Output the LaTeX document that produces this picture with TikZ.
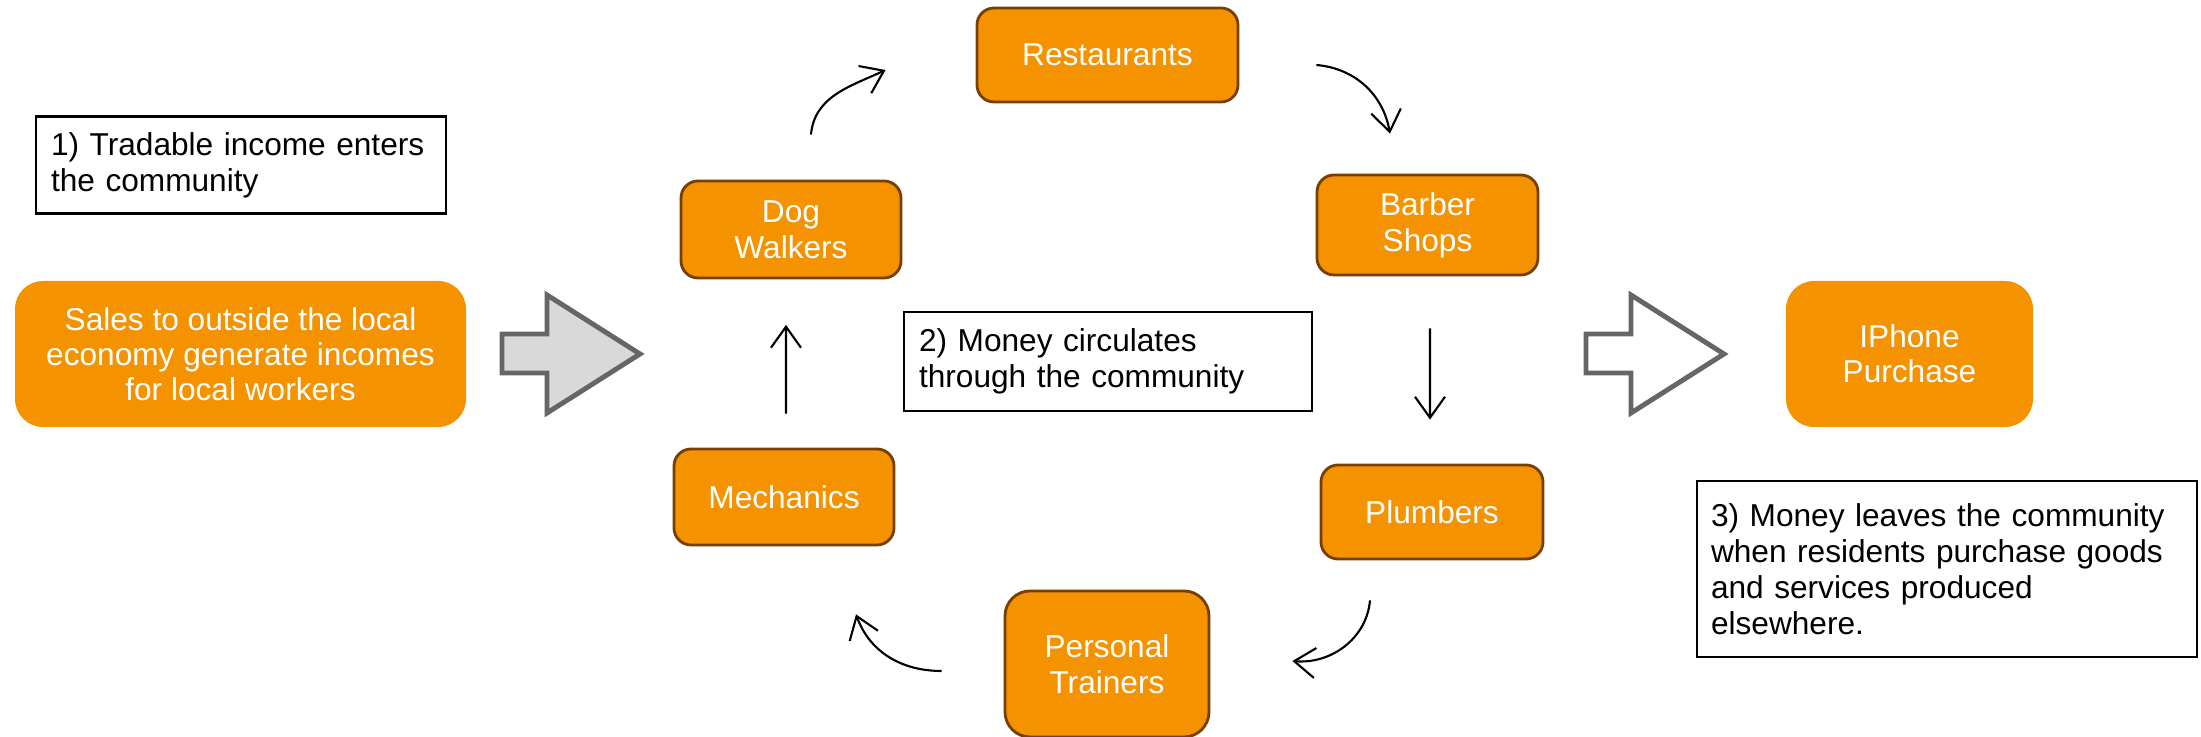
\documentclass[tikz,border=0pt]{standalone}
\usepackage{fontspec}
\setmainfont{Liberation Sans}
\usetikzlibrary{arrows.meta}
\definecolor{boxorange}{RGB}{244,146,0}
\definecolor{boxbrown}{RGB}{120,63,4}
\definecolor{arrowgrey}{RGB}{102,102,102}
\definecolor{lightgrey}{RGB}{217,217,217}
\tikzset{shop/.style = {fill = boxorange, draw = boxbrown, line width = 0.8pt, rounded corners = 0.17cm, text = white, align = center, font = \fontsize{9}{10.2}\selectfont, inner sep = 0}}
\tikzset{bigbox/.style = {fill = boxorange, rounded corners = 0.28cm, text = white, align = center, font = \fontsize{9}{10}\selectfont, inner sep = 0}}
\tikzset{note/.style = {draw, line width = 0.6pt, align = left, font = \fontsize{9}{10.2}\selectfont, inner xsep = 0.15cm, inner ysep = 0}}
\tikzset{flow/.style = {line width = 0.6pt, -{Straight Barb[length = 2.1mm, width = 3mm]}}}

\begin{document}
\begin{tikzpicture}
    \useasboundingbox (0, 0) rectangle (22.01, 7.37);

    \node [note, text width = 3.8cm, minimum height = 0.97cm] (note1) at (2.41, 5.72) {1) Tradable income enters\\the community};
    \node [bigbox, minimum width = 4.51cm, minimum height = 1.46cm] (sales) at (2.405, 3.83) {Sales to outside the local\\economy generate incomes\\for local workers};

    % big arrows in and out of the community
    \foreach \x/\c in {0/lightgrey, 10.84/white} {
      \begin{scope}[xshift=\x cm]
        \draw [draw = arrowgrey, fill = \c, line width = 1.4pt] (5.02, 3.64) -- (5.47, 3.64) -- (5.47, 3.24) -- (6.40, 3.83) -- (5.47, 4.42) -- (5.47, 4.03) -- (5.02, 4.03) -- cycle;
      \end{scope}
    }

    \node [shop, minimum width = 2.20cm, minimum height = 0.97cm] (dog) at (7.91, 5.075) {Dog\\Walkers};
    \node [shop, minimum width = 2.61cm, minimum height = 0.94cm] (rest) at (11.075, 6.82) {Restaurants};
    \node [shop, minimum width = 2.21cm, minimum height = 1.00cm] (barber) at (14.275, 5.12) {Barber\\Shops};
    \node [shop, minimum width = 2.22cm, minimum height = 0.94cm] (plumb) at (14.32, 2.25) {Plumbers};
    \node [shop, minimum width = 2.04cm, minimum height = 1.46cm, rounded corners = 0.25cm] (trainer) at (11.07, 0.73) {Personal\\Trainers};
    \node [shop, minimum width = 2.20cm, minimum height = 0.96cm] (mech) at (7.84, 2.40) {Mechanics};

    \node [note, text width = 3.78cm, minimum height = 0.99cm] (note2) at (11.08, 3.755) {2) Money circulates\\through the community};

    \node [bigbox, minimum width = 2.47cm, minimum height = 1.46cm] (iphone) at (19.095, 3.83) {IPhone\\Purchase};
    \node [note, text width = 4.72cm, minimum height = 1.76cm, inner xsep = 0.14cm] (note3) at (19.47, 1.68) {3) Money leaves the community\\when residents purchase goods\\and services produced\\elsewhere.};

    \draw [flow] ([shift={(0.20, 0.45)}]dog.north) to [out=85, in=205] ([shift={(-0.90, -0.15)}]rest.west);
    \draw [flow] ([shift={(0.77, -0.10)}]rest.east) to [out=-5, in=100] ([shift={(-0.375, 0.40)}]barber.north);
    \draw [flow] ([shift={(0.025, -0.52)}]barber.south) -- ([shift={(-0.02, 0.44)}]plumb.north);
    \draw [flow] ([shift={(-0.62, -0.40)}]plumb.south) to [out=-95, in=-5] ([shift={(0.82, 0.03)}]trainer.east);
    \draw [flow] ([shift={(-0.62, -0.07)}]trainer.west) to [out=180, in=-70] ([shift={(0.72, -0.68)}]mech.south);
    \draw [flow] ([shift={(0.02, 0.34)}]mech.north) -- ([shift={(-0.05, -0.455)}]dog.south);

  \end{tikzpicture}
\end{document}
